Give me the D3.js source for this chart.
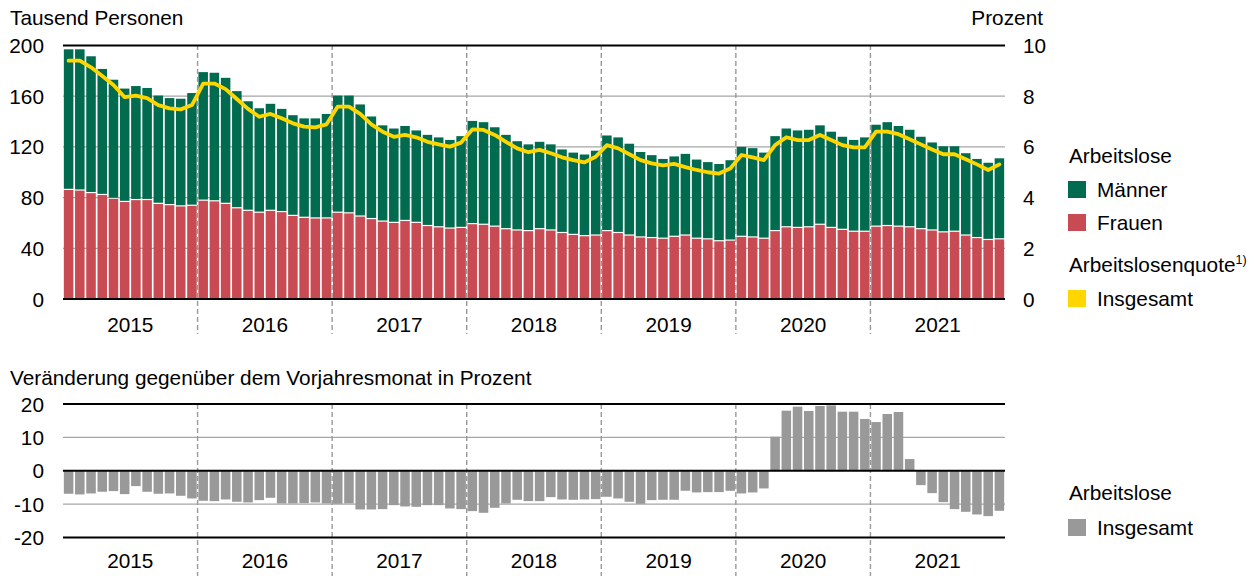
<!DOCTYPE html>
<html>
<head>
<meta charset="utf-8">
<script src="https://cdn.jsdelivr.net/npm/d3@7"></script>
<style>
  body { margin: 0; background: #fff; }
  svg text { font-family: "Liberation Sans", Arial, sans-serif; font-size: 20.8px; fill: #000; }
</style>
</head>
<body>
<script>
// data (monthly, Jan 2015 - Dec 2021)
var years = ["2015", "2016", "2017", "2018", "2019", "2020", "2021"];

// Arbeitslose Frauen, Tausend Personen
var frauen = [
  86, 85.5, 83.5, 82, 79, 76.5, 78, 78, 75, 74, 73, 73.5,
  77.5, 77, 75, 71.5, 69.5, 68, 69.5, 68.5, 65.5, 64, 63.5, 63.5,
  68, 67.5, 65, 63, 61, 60, 61.5, 60, 57.5, 56.5, 55.5, 56,
  59, 58.5, 57, 55, 54, 53.5, 55, 54, 52, 50.5, 49.5, 50,
  53.5, 52, 50, 48.5, 48, 47.5, 49, 50, 47.5, 47, 45.5, 46,
  49, 48.5, 47.5, 53.5, 56.5, 56, 56.5, 58.5, 56, 54.5, 53, 53,
  57, 57.5, 57, 56.5, 55, 54, 52.5, 53, 50, 48, 46.5, 47
];

// Arbeitslose Maenner, Tausend Personen
var maenner = [
  111, 111.5, 108, 99.5, 94, 89.5, 90, 88.5, 85.5, 84.5, 85, 89,
  101.5, 101.5, 99.5, 92.5, 86.5, 82.5, 84.5, 81.5, 79.5, 78.5, 79, 82.5,
  92.5, 93, 88.5, 81, 76, 74.5, 75, 73, 72, 71, 70, 72.5,
  81.5, 81, 78.5, 74.5, 70.5, 68.5, 69, 68, 66, 65, 64.5, 67,
  75.5, 75.5, 72.5, 67.5, 65.5, 63, 63.5, 64.5, 62.5, 61, 61, 63.5,
  71, 70.5, 68, 75, 78, 77, 77, 78.5, 76, 73.5, 72.5, 74.5,
  80.5, 82, 79.5, 77, 73, 69.5, 68, 67.5, 65, 62.5, 61, 64
];

// Arbeitslosenquote insgesamt, Prozent
var quote = [
  9.4, 9.4, 9.14, 8.8, 8.44, 7.96, 8.02, 7.92, 7.65, 7.52, 7.48, 7.65,
  8.5, 8.5, 8.28, 7.89, 7.5, 7.19, 7.3, 7.13, 6.93, 6.8, 6.77, 6.89,
  7.59, 7.59, 7.3, 6.89, 6.6, 6.4, 6.47, 6.38, 6.2, 6.1, 6.01, 6.17,
  6.69, 6.67, 6.47, 6.2, 5.94, 5.79, 5.88, 5.75, 5.59, 5.48, 5.39, 5.61,
  6.07, 5.94, 5.71, 5.48, 5.35, 5.27, 5.33, 5.2, 5.09, 5.0, 4.95, 5.15,
  5.68, 5.59, 5.48, 6.07, 6.38, 6.27, 6.27, 6.47, 6.27, 6.07, 5.98, 5.98,
  6.6, 6.6, 6.5, 6.3, 6.1, 5.9, 5.71, 5.71, 5.51, 5.31, 5.09, 5.31
];

// Veraenderung gegenueber dem Vorjahresmonat, Prozent
var veraenderung = [
  -6.9, -7.1, -6.8, -6.3, -6.1, -7.0, -4.6, -6.3, -6.9, -6.8, -7.5, -8.3,
  -9.0, -9.1, -8.6, -9.3, -9.5, -8.8, -8.1, -9.8, -9.8, -9.7, -9.5, -9.8,
  -9.9, -9.8, -11.6, -11.6, -11.5, -10.3, -10.7, -10.8, -10.3, -10.3, -11.3, -11.5,
  -12.1, -12.6, -11.1, -9.8, -8.7, -9.1, -9.1, -7.9, -8.6, -8.7, -8.6, -8.5,
  -7.8, -8.3, -9.3, -9.9, -8.8, -8.7, -8.7, -6.0, -6.5, -6.4, -6.4, -6.0,
  -6.8, -6.5, -5.3, 10.2, 18.0, 19.2, 17.9, 19.4, 19.6, 17.7, 17.7, 15.5,
  14.6, 17.0, 17.6, 3.5, -4.3, -6.7, -9.4, -11.5, -12.3, -13.1, -13.6, -12.0
];

var leftTicks = [0, 40, 80, 120, 160, 200];
var rightTicks = [0, 2, 4, 6, 8, 10];
var changeTicks = [-20, -10, 0, 10, 20];

var colGreen = "#006b4e", colRed = "#c84a52", colYellow = "#ffd600", colGray = "#999999";

var svg = d3.select("body").append("svg")
    .attr("width", 1257)
    .attr("height", 576);

var plotLeft = 63, plotRight = 1005;
var months = d3.range(frauen.length);

var x = d3.scaleBand()
    .domain(months)
    .range([plotLeft, plotRight])
    .paddingInner(0.15)
    .paddingOuter(0.075);
var step = x.step();

// ---------- top panel ----------
var y = d3.scaleLinear().domain([0, 200]).range([299, 45.5]);
var yq = d3.scaleLinear().domain([0, 10]).range([299, 45.5]);

var topG = svg.append("g");

// grid lines
topG.selectAll(".grid")
    .data(leftTicks.filter(function(d) { return d > 0 && d < 200; }))
  .enter().append("line")
    .attr("x1", plotLeft).attr("x2", plotRight)
    .attr("y1", function(d) { return y(d); })
    .attr("y2", function(d) { return y(d); })
    .attr("stroke", "#a6a6a6")
    .attr("stroke-width", 1.3);

// stacked bars
topG.selectAll(".fr")
    .data(months)
  .enter().append("rect")
    .attr("x", function(i) { return x(i); })
    .attr("width", x.bandwidth())
    .attr("y", function(i) { return y(frauen[i]); })
    .attr("height", function(i) { return y(0) - y(frauen[i]); })
    .attr("fill", colRed);

topG.selectAll(".ma")
    .data(months)
  .enter().append("rect")
    .attr("x", function(i) { return x(i); })
    .attr("width", x.bandwidth())
    .attr("y", function(i) { return y(frauen[i] + maenner[i]); })
    .attr("height", function(i) { return y(frauen[i]) - y(frauen[i] + maenner[i]) - 1.2; })
    .attr("fill", colGreen);

// year dividers
topG.selectAll(".div")
    .data(d3.range(1, years.length))
  .enter().append("line")
    .attr("x1", function(k) { return plotLeft + k * 12 * step; })
    .attr("x2", function(k) { return plotLeft + k * 12 * step; })
    .attr("y1", 45).attr("y2", 334)
    .attr("stroke", "#999")
    .attr("stroke-width", 1.4)
    .attr("stroke-dasharray", "5,3");

// frame lines at 0 and 200
topG.selectAll(".edge")
    .data([0, 200])
  .enter().append("line")
    .attr("x1", plotLeft).attr("x2", plotRight)
    .attr("y1", function(d) { return y(d); })
    .attr("y2", function(d) { return y(d); })
    .attr("stroke", "#000")
    .attr("stroke-width", 2);

// rate line
var line = d3.line()
    .x(function(i) { return x(i) + x.bandwidth() / 2; })
    .y(function(i) { return yq(quote[i]); });

topG.append("path")
    .datum(months)
    .attr("d", line)
    .attr("fill", "none")
    .attr("stroke", colYellow)
    .attr("stroke-width", 3.8)
    .attr("stroke-linejoin", "round")
    .attr("stroke-linecap", "round");

// axes labels
topG.selectAll(".lt")
    .data(leftTicks)
  .enter().append("text")
    .attr("x", 44)
    .attr("y", function(d) { return y(d) + 7.5; })
    .attr("text-anchor", "end")
    .text(function(d) { return d; });

topG.selectAll(".rt")
    .data(rightTicks)
  .enter().append("text")
    .attr("x", 1023)
    .attr("y", function(d) { return yq(d) + 7.5; })
    .text(function(d) { return d; });

topG.append("text").attr("x", 10).attr("y", 25).text("Tausend Personen");
topG.append("text").attr("x", 1043).attr("y", 25).attr("text-anchor", "end").text("Prozent");

topG.selectAll(".yr")
    .data(years)
  .enter().append("text")
    .attr("x", function(d, k) { return plotLeft + (k * 12 + 6) * step; })
    .attr("y", 332)
    .attr("text-anchor", "middle")
    .text(function(d) { return d; });

// ---------- bottom panel ----------
var y2 = d3.scaleLinear().domain([-20, 20]).range([537.5, 404]);
var bottomG = svg.append("g");

bottomG.append("text").attr("x", 10).attr("y", 385)
    .text("Veränderung gegenüber dem Vorjahresmonat in Prozent");

bottomG.selectAll(".grid2")
    .data([-10, 10])
  .enter().append("line")
    .attr("x1", plotLeft).attr("x2", plotRight)
    .attr("y1", function(d) { return y2(d); })
    .attr("y2", function(d) { return y2(d); })
    .attr("stroke", "#a6a6a6")
    .attr("stroke-width", 1.3);

bottomG.selectAll(".vb")
    .data(months)
  .enter().append("rect")
    .attr("x", function(i) { return x(i); })
    .attr("width", x.bandwidth())
    .attr("y", function(i) { return y2(Math.max(0, veraenderung[i])); })
    .attr("height", function(i) { return Math.abs(y2(veraenderung[i]) - y2(0)); })
    .attr("fill", colGray);

bottomG.selectAll(".div2")
    .data(d3.range(1, years.length))
  .enter().append("line")
    .attr("x1", function(k) { return plotLeft + k * 12 * step; })
    .attr("x2", function(k) { return plotLeft + k * 12 * step; })
    .attr("y1", 404).attr("y2", 576)
    .attr("stroke", "#999")
    .attr("stroke-width", 1.4)
    .attr("stroke-dasharray", "5,3");

bottomG.selectAll(".edge2")
    .data([-20, 0, 20])
  .enter().append("line")
    .attr("x1", plotLeft).attr("x2", plotRight)
    .attr("y1", function(d) { return y2(d); })
    .attr("y2", function(d) { return y2(d); })
    .attr("stroke", "#000")
    .attr("stroke-width", 2);

bottomG.selectAll(".ct")
    .data(changeTicks)
  .enter().append("text")
    .attr("x", 44)
    .attr("y", function(d) { return y2(d) + 7.5; })
    .attr("text-anchor", "end")
    .text(function(d) { return d; });

bottomG.selectAll(".yr2")
    .data(years)
  .enter().append("text")
    .attr("x", function(d, k) { return plotLeft + (k * 12 + 6) * step; })
    .attr("y", 568)
    .attr("text-anchor", "middle")
    .text(function(d) { return d; });

// ---------- legends ----------
var legend = svg.append("g");
legend.append("text").attr("x", 1069).attr("y", 163).text("Arbeitslose");

var items = [
  {label: "Männer", color: colGreen, y: 181},
  {label: "Frauen", color: colRed, y: 214},
  {label: "Insgesamt", color: colYellow, y: 290}
];
items.forEach(function(it) {
  legend.append("rect")
      .attr("x", 1068).attr("y", it.y)
      .attr("width", 18).attr("height", 17)
      .attr("fill", it.color);
  legend.append("text")
      .attr("x", 1097).attr("y", it.y + 16)
      .text(it.label);
});

var q = legend.append("text").attr("x", 1069).attr("y", 272);
q.append("tspan").text("Arbeitslosenquote");
q.append("tspan").attr("dy", -8).style("font-size", "12.5px").text("1)");

legend.append("text").attr("x", 1069).attr("y", 500).text("Arbeitslose");
legend.append("rect")
    .attr("x", 1068).attr("y", 519)
    .attr("width", 18).attr("height", 17)
    .attr("fill", colGray);
legend.append("text").attr("x", 1097).attr("y", 535).text("Insgesamt");
</script>
</body>
</html>
